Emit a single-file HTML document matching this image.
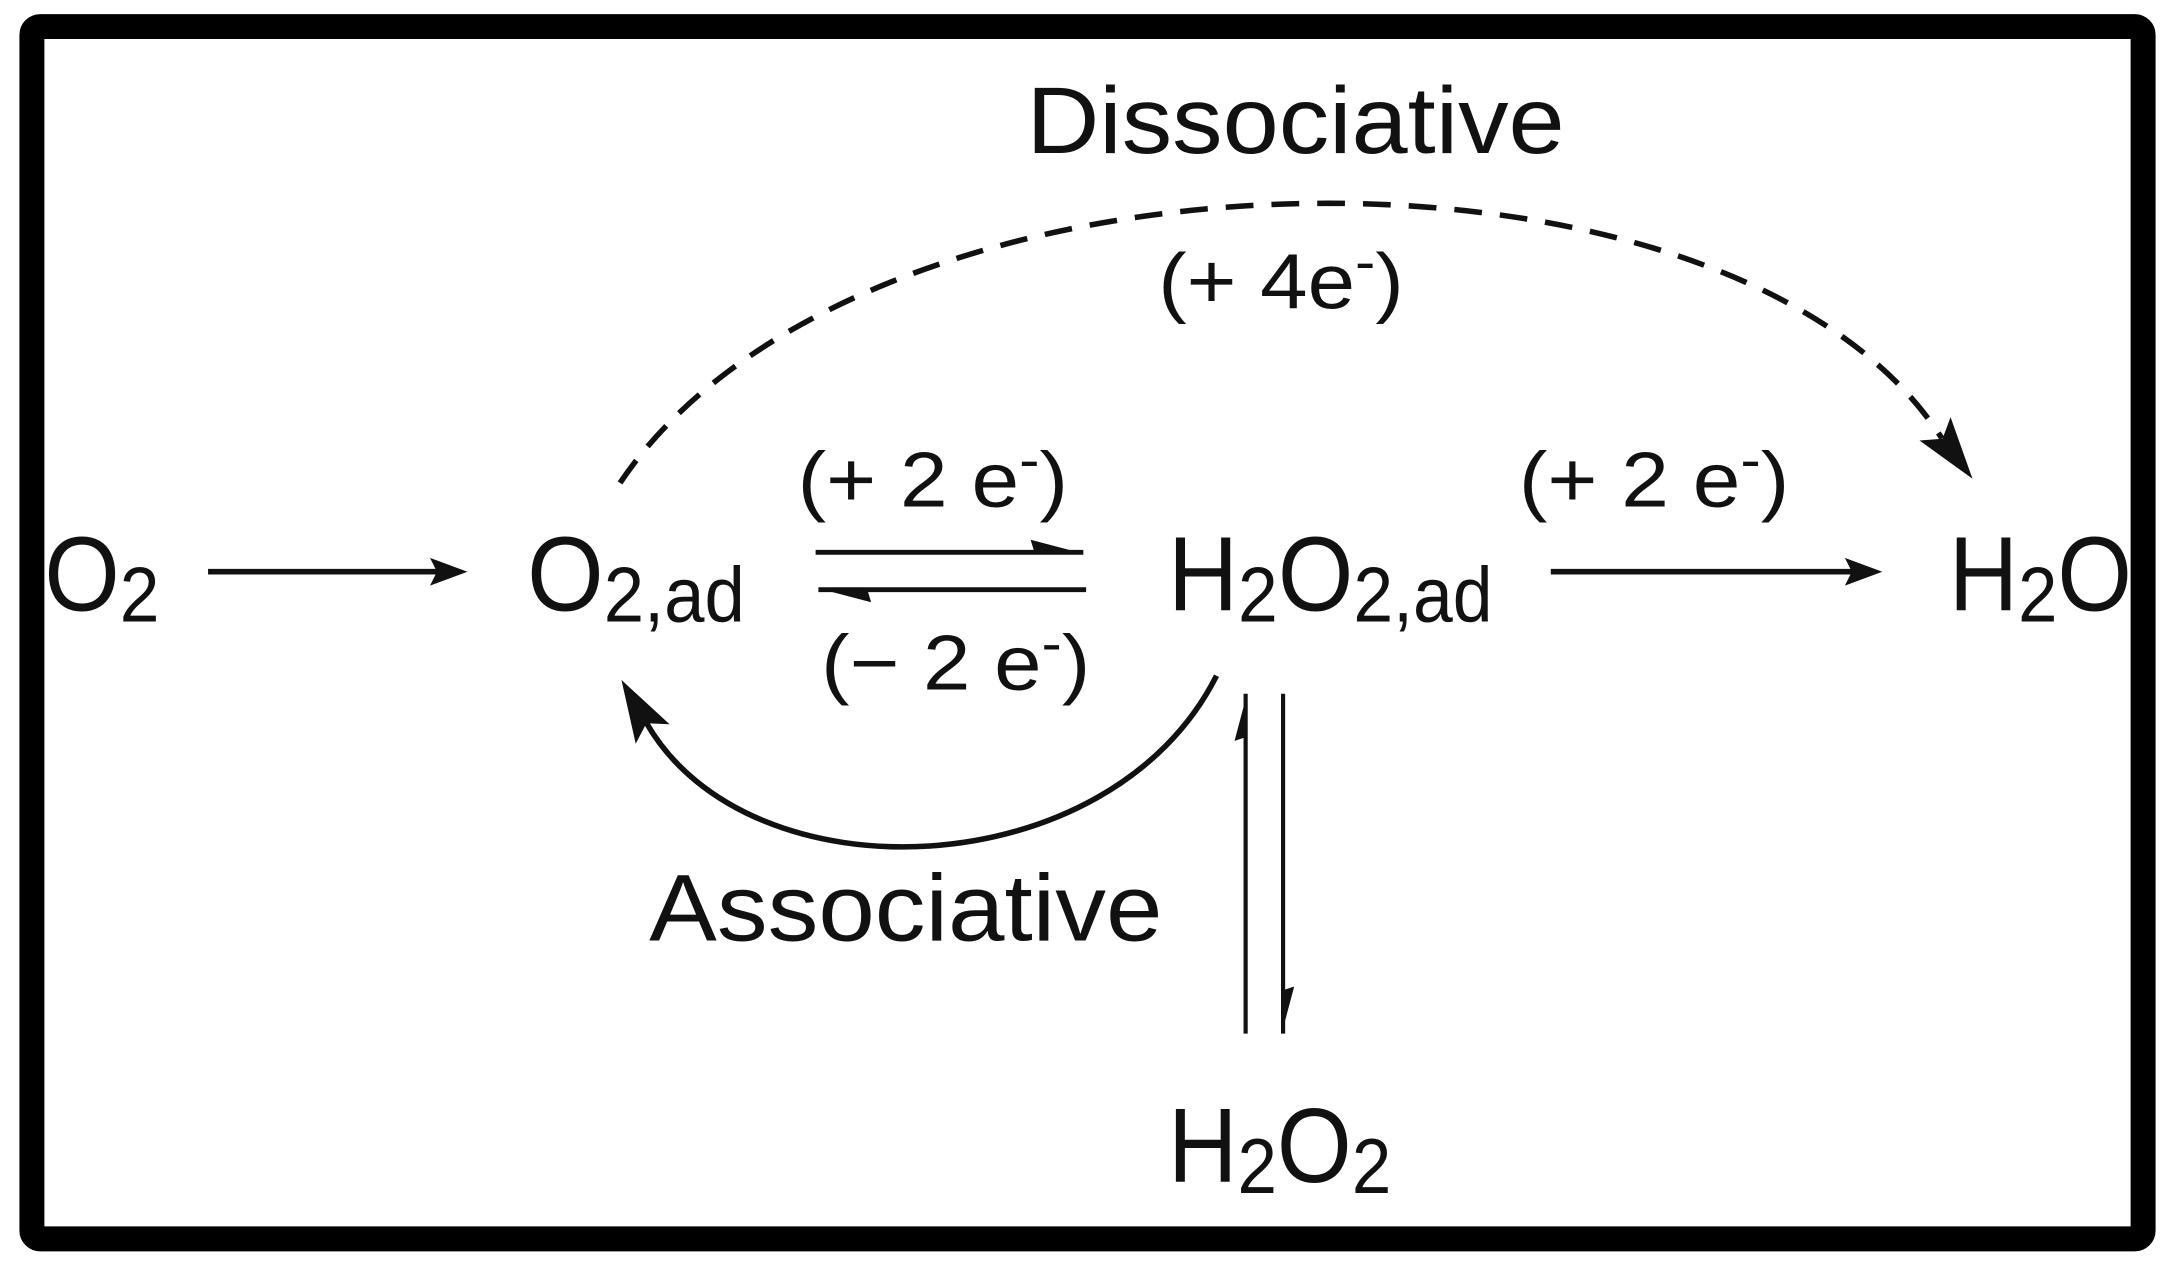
<!DOCTYPE html>
<html><head><meta charset="utf-8"><style>
html,body{margin:0;padding:0;background:#fff;}
svg{display:block;}
text{font-family:"Liberation Sans",Arial,sans-serif;fill:#111;}
</style></head><body>
<svg width="2175" height="1271" viewBox="0 0 1568 916" xmlns="http://www.w3.org/2000/svg">
<rect x="0" y="0" width="1568" height="916" fill="#fff"/>
<rect x="23" y="19" width="1522" height="874" rx="6" fill="#fff" stroke="#000" stroke-width="18"/>

<!-- texts -->
<text x="740" y="110" font-size="68" textLength="388" lengthAdjust="spacingAndGlyphs">Dissociative</text>
<text x="835" y="222" font-size="56" textLength="177" lengthAdjust="spacingAndGlyphs">(+ 4e<tspan font-size="40" dy="-20">-</tspan><tspan dy="20">)</tspan></text>
<text x="575" y="365" font-size="56" textLength="195" lengthAdjust="spacingAndGlyphs">(+ 2 e<tspan font-size="40" dy="-20">-</tspan><tspan dy="20">)</tspan></text>
<text x="592" y="497" font-size="56" textLength="194" lengthAdjust="spacingAndGlyphs">(− 2 e<tspan font-size="40" dy="-20">-</tspan><tspan dy="20">)</tspan></text>
<text x="1095" y="365" font-size="56" textLength="195" lengthAdjust="spacingAndGlyphs">(+ 2 e<tspan font-size="40" dy="-20">-</tspan><tspan dy="20">)</tspan></text>

<text x="32" y="440" font-size="76" textLength="83" lengthAdjust="spacingAndGlyphs">O<tspan font-size="56" dy="8">2</tspan></text>
<text x="380" y="440" font-size="76" textLength="157" lengthAdjust="spacingAndGlyphs">O<tspan font-size="56" dy="8">2,ad</tspan></text>
<text x="842" y="440" font-size="76" textLength="234" lengthAdjust="spacingAndGlyphs">H<tspan font-size="56" dy="8">2</tspan><tspan dy="-8">O</tspan><tspan font-size="56" dy="8">2,ad</tspan></text>
<text x="1405" y="440" font-size="76" textLength="132" lengthAdjust="spacingAndGlyphs">H<tspan font-size="56" dy="8">2</tspan><tspan dy="-8">O</tspan></text>
<text x="842" y="852" font-size="76" textLength="161" lengthAdjust="spacingAndGlyphs">H<tspan font-size="56" dy="8">2</tspan><tspan dy="-8">O</tspan><tspan font-size="56" dy="8">2</tspan></text>
<text x="468" y="678" font-size="68" textLength="370" lengthAdjust="spacingAndGlyphs">Associative</text>

<!-- straight arrows -->
<line x1="150" y1="412" x2="318" y2="412" stroke="#111" stroke-width="4"/>
<path d="M337,412 L310,402 L315,412 L310,422 Z" fill="#111"/>
<line x1="1118" y1="412" x2="1338" y2="412" stroke="#111" stroke-width="4"/>
<path d="M1357,412 L1330,402 L1335,412 L1330,422 Z" fill="#111"/>

<!-- equilibrium horizontal -->
<line x1="588" y1="398" x2="781" y2="398" stroke="#111" stroke-width="3.5"/>
<path d="M781,399 L743,389 L746,399 Z" fill="#111"/>
<line x1="590" y1="425" x2="783" y2="425" stroke="#111" stroke-width="3.5"/>
<path d="M590,424 L628,434 L625,424 Z" fill="#111"/>

<!-- equilibrium vertical -->
<line x1="898" y1="745" x2="898" y2="500" stroke="#111" stroke-width="3"/>
<path d="M899,500 L890,534 L899,531 Z" fill="#111"/>
<line x1="925" y1="500" x2="925" y2="745" stroke="#111" stroke-width="3"/>
<path d="M924,745 L933,711 L924,714 Z" fill="#111"/>

<!-- dashed dissociative curve -->
<path d="M447,348 C620,90 1250,80 1400,316" fill="none" stroke="#111" stroke-width="4" stroke-dasharray="20,13"/>
<path d="M1422,345 L1406.2,300.6 L1400.4,316.2 L1383.8,317.4 Z" fill="#111"/>

<!-- associative curve -->
<path d="M877,487 C800,640 540,650 466,521" fill="none" stroke="#111" stroke-width="4"/>
<path d="M448,490 L482.7,522 L466,521.3 L458.3,536 Z" fill="#111"/>
</svg>
</body></html>
